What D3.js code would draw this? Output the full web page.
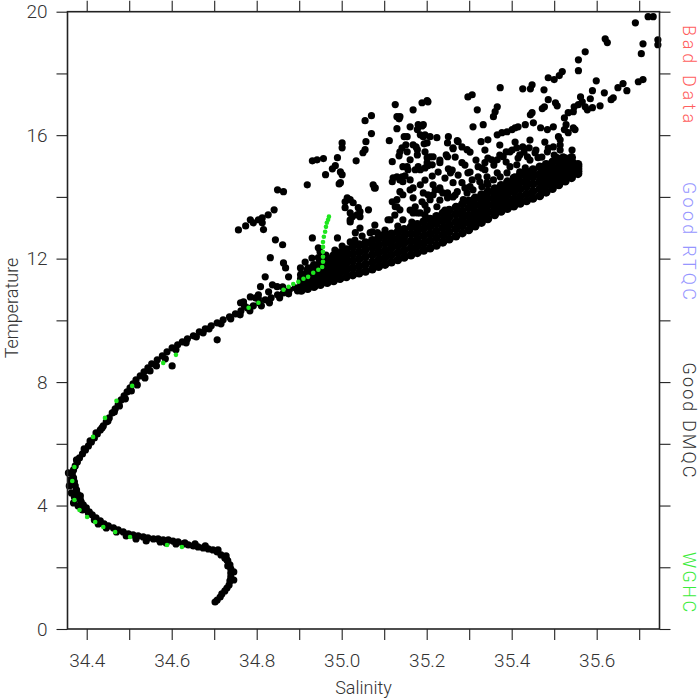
<!DOCTYPE html>
<html><head><meta charset="utf-8">
<script src="https://cdn.jsdelivr.net/npm/d3@7"></script>
<style>
body{margin:0;background:#fff}
text{font-family:Roboto,"Liberation Sans",Arial,sans-serif}
</style></head>
<body><svg id="chart" width="700" height="700"></svg>
<script>
// ---------------- DATA ----------------
const xTicks = [34.4,34.5,34.6,34.7,34.8,34.9,35.0,35.1,35.2,35.3,35.4,35.5,35.6,35.7];
const xLabels = [34.4,34.6,34.8,35.0,35.2,35.4,35.6];
const yTicks = [0,2,4,6,8,10,12,14,16,18,20];
const yLabels = [0,4,8,12,16,20];
const qcLabels = ["Bad Data","Good RTQC","Good DMQC","WGHC"];
const qcColors = ["#ff5f5f","#9696ff","#333333","#3cec3c"];
const qcCenters = [17.98,12.57,6.77,1.52];
const qcLengths = [98,118,115,60];

// main profile curve [salinity, temperature]
const hookProfile = [[34.702,0.875],[34.707,0.940],[34.714,1.037],[34.718,1.135],[34.725,1.232],[34.730,1.329],[34.735,1.426],[34.737,1.556],[34.739,1.686],[34.739,1.815],[34.739,1.945],[34.737,2.075],[34.732,2.204],[34.725,2.302],[34.716,2.399],[34.707,2.496],[34.697,2.561],[34.686,2.593],[34.674,2.626],[34.662,2.658],[34.651,2.690],[34.639,2.723],[34.627,2.755],
[34.615,2.82],[34.603,2.85],[34.592,2.885],[34.580,2.885],[34.568,2.917],[34.557,2.917],[34.544,2.950],[34.533,2.982],[34.521,3.015],[34.509,3.047],[34.498,3.080],[34.486,3.144],[34.474,3.209],[34.463,3.274],[34.451,3.339],[34.441,3.404],[34.432,3.501],[34.422,3.598],[34.413,3.695],[34.406,3.793],[34.399,3.922],[34.392,4.019],[34.387,4.117],[34.383,4.246],[34.378,4.376],[34.376,4.506],[34.373,4.635],[34.371,4.765],[34.369,4.895],[34.366,5.024],[34.369,5.154],[34.373,5.284],[34.378,5.413],[34.383,5.543],[34.390,5.673],[34.397,5.802],[34.404,5.932],[34.411,6.062],[34.418,6.191],[34.425,6.321],[34.432,6.451],[34.439,6.580],[34.446,6.710],[34.453,6.840],[34.460,7.002],[34.467,7.131],[34.474,7.261],[34.481,7.423],[34.488,7.553],[34.495,7.682],[34.502,7.812],[34.509,7.942],[34.516,8.071],[34.526,8.201],[34.535,8.331],[34.544,8.460],[34.553,8.590],[34.566,8.720],[34.578,8.849],[34.589,8.979],[34.601,9.109],[34.614,9.206],[34.625,9.303],[34.637,9.400],[34.651,9.498],[34.665,9.627],[34.679,9.725],[34.693,9.822],[34.707,9.919],[34.721,10.016],[34.736,10.113],[34.750,10.211],[34.763,10.308],[34.778,10.405],[34.792,10.470],[34.806,10.567],[34.820,10.665],[34.834,10.729],[34.849,10.827],[34.863,10.891],[34.877,10.989],[34.891,11.054],[34.905,11.151],[34.919,11.216],[34.933,11.280],[34.948,11.345],[34.962,11.410],[34.976,11.475],[34.990,11.540]];

const profileSpread = [[34.730,2.237],[34.728,2.366],[34.732,2.042],[34.746,1.848],[34.746,1.588],[34.709,2.561],[34.679,2.690],[34.655,2.755],[34.631,2.788],[34.610,2.755],[34.587,2.788],[34.573,2.82],[34.540,2.853],[34.516,2.917],[34.493,3.015],[34.470,3.144],[34.446,3.274],[34.427,3.404],[34.418,3.533],
[34.357,5.057],[34.362,4.830],[34.359,4.635],[34.364,4.408],[34.371,4.279],[34.385,4.181],[34.369,4.084],[34.380,3.987],[34.394,3.890],[34.404,3.760],[34.385,4.311],[34.390,3.857],
[34.376,5.478],[34.394,5.835],[34.408,6.094],[34.422,6.354],[34.436,6.516],[34.450,6.743],[34.465,7.034],[34.477,7.229],[34.491,7.456],[34.505,7.715],[34.519,7.909],[34.537,8.136],[34.549,8.363],[34.564,8.525],[34.601,8.525],[34.585,8.752],[34.610,9.044],[34.634,9.271],[34.658,9.465],[34.674,9.595],[34.707,9.368],[34.688,9.725],[34.716,9.887],[34.739,10.049],[34.761,10.178],[34.784,10.308],[34.811,10.470],[34.830,10.567],[34.854,10.729],[34.875,10.859],[34.896,10.956],[34.917,11.054],[34.940,11.151],[34.964,11.248],[34.985,11.345],[34.771,10.470],[34.804,10.697],[34.828,10.924],[34.861,11.086]];

// dense warm band: salinity column and temperatures stacked in it
const bandS = [34.905,34.920,34.935,34.950,34.966,34.981,34.996,35.011,35.026,35.041,35.056,35.072,35.087,35.102,35.117,35.132,35.147,35.163,35.178,35.193,35.208,35.223,35.238,35.253,35.269,35.284,35.299,35.314,35.329,35.344,35.360,35.375,35.390,35.405,35.420,35.435,35.450,35.466,35.481,35.496,35.511,35.526,35.541,35.556];
const bandT = [[10.97,11.10,11.23,11.35,11.48],[11.03,11.18,11.33,11.48,11.63],[11.09,11.26,11.44,11.61,11.78],[11.16,11.35,11.54,11.72,11.91],[11.22,11.42,11.61,11.81,12.00],[11.28,11.48,11.69,11.89,12.10],[11.35,11.56,11.77,11.98,12.19],[11.41,11.63,11.85,12.07,12.29],[11.47,11.70,11.93,12.15,12.38],[11.53,11.76,11.99,12.22,12.45],[11.59,11.82,12.06,12.29,12.52],[11.66,11.89,12.13,12.36,12.59],[11.74,11.97,12.20,12.43,12.66],[11.81,12.04,12.27,12.50,12.73],[11.89,12.12,12.35,12.57,12.80],[11.96,12.19,12.42,12.64,12.87],[12.04,12.27,12.50,12.72,12.95],[12.11,12.34,12.57,12.80,13.03],[12.19,12.42,12.65,12.88,13.11],[12.27,12.50,12.74,12.97,13.20],[12.34,12.58,12.81,13.05,13.28],[12.43,12.67,12.90,13.14,13.37],[12.53,12.77,13.00,13.24,13.47],[12.63,12.87,13.10,13.34,13.57],[12.73,12.97,13.20,13.44,13.67],[12.83,13.07,13.30,13.54,13.77],[12.93,13.17,13.40,13.64,13.87],[13.05,13.28,13.51,13.74,13.97],[13.17,13.39,13.62,13.85,14.07],[13.29,13.51,13.73,13.95,14.17],[13.42,13.63,13.85,14.06,14.27],[13.53,13.74,13.95,14.16,14.37],[13.62,13.84,14.06,14.27,14.49],[13.70,13.93,14.16,14.38,14.61],[13.79,14.02,14.26,14.49,14.72],[13.87,14.10,14.34,14.57,14.80],[13.95,14.18,14.42,14.65,14.88],[14.03,14.27,14.50,14.74,14.97],[14.15,14.38,14.60,14.83,15.05],[14.27,14.49,14.70,14.92,15.13],[14.39,14.59,14.79,14.99,15.19],[14.51,14.69,14.88,15.06,15.24],[14.62,14.79,14.95,15.12,15.28],[14.75,14.83,14.90,14.98,15.05]];

// points crowding just above the band
const bandFringe = [[35.196,14.545],[35.213,14.674],[35.227,14.804],[35.243,14.610],[35.260,14.869],[35.274,14.707],[35.290,15.031],[35.302,14.804],[35.316,15.193],[35.330,14.934],[35.344,15.258],[35.358,15.031],[35.372,15.355],[35.387,15.128],[35.401,15.517],[35.415,15.258],[35.429,15.452],[35.443,15.193],[35.457,15.517],[35.471,15.290],[35.486,15.582],[35.500,15.355],[35.514,15.517],[35.528,15.193],[35.231,15.193],[35.267,15.290],[35.302,15.452],[35.337,15.517],[35.372,15.679],[35.408,15.776],[35.443,15.841],[35.478,15.776],[35.514,15.679],[35.542,15.517],
[35.031,12.601],[35.048,12.731],[35.067,12.504],[35.085,12.666],[35.102,12.925],[35.118,12.731],[35.132,13.054],[35.149,12.860],[35.165,13.185],[35.179,12.990],[35.043,12.990],[35.078,13.087],[35.125,13.411],[35.161,13.573],[35.196,13.735],[35.231,13.892],[35.267,14.059],[35.196,13.411],[35.243,13.573],
[34.914,11.889],[34.930,12.018],[34.963,12.115],[34.984,12.277],[35.001,12.407]];

// scattered points above the band
const midScatter = [[34.757,12.93],[34.774,13.06],[34.785,13.26],[34.792,13.16],[34.804,13.26],[34.813,13.32],[34.827,13.42],[34.841,13.58],[34.813,13.16],[34.816,12.94],[34.849,14.23],[34.863,14.17],[34.919,14.39],[34.844,12.61],[34.861,12.45],[34.832,12.03],[34.863,11.86],[34.868,11.70],[34.875,11.41],[34.903,11.70],[34.921,11.70],[34.820,11.41],[34.837,11.15],[34.848,11.09],[34.809,11.09],[34.804,10.83],[34.797,10.73],[34.785,10.76],[34.769,10.60],[34.762,10.57],[34.945,12.03],[34.949,12.22],[34.945,12.35],[34.931,12.67],[34.990,12.67],
[34.931,15.17],[34.942,15.20],[34.957,15.24],[34.990,15.27],[34.978,14.91],[34.985,15.01],[34.962,14.72],[34.997,14.81],[35.001,14.72],[34.997,14.46],[35.001,15.75],[35.001,15.59],[35.055,16.47],[35.070,16.63],[35.057,15.79],[35.070,16.05],[35.055,15.53],[35.050,15.43],[35.034,15.17],[35.074,14.39],[35.079,14.29],[35.013,13.97],[35.008,13.84],[35.020,13.91],[35.008,13.65],[35.025,13.36],[35.020,13.26],[35.039,13.65],[35.043,13.52],[35.036,13.42],[35.063,13.58],[35.032,12.84],[35.072,12.87],[35.084,12.84],[35.095,12.77],[35.107,12.77],[35.114,12.71],[35.114,13.26],[35.126,16.99],[35.130,16.60],[35.135,16.53],[35.168,16.82],[35.189,17.05],[35.203,17.08],[35.112,15.82],[35.130,16.21],[35.154,15.95],[35.161,16.27],[35.180,16.34],[35.192,16.34],[35.178,16.18],[35.185,16.01],[35.192,15.95],[35.208,15.95],[35.224,15.92],[35.151,15.69],[35.142,15.59],[35.137,15.46],[35.135,15.33],[35.168,15.69],[35.178,15.53],[35.194,15.72],[35.201,15.27],[35.208,15.30],[35.215,15.30],[35.119,15.14],[35.154,14.98],[35.156,14.88],[35.173,14.88],[35.185,14.88],[35.196,14.94],[35.203,15.01],[35.213,15.04],[35.142,14.65],[35.149,14.68],[35.121,14.62],[35.251,15.95],[35.249,15.75],[35.262,15.56],[35.249,15.30],[35.251,14.91],[35.272,15.82],[35.130,14.65],[35.137,14.55],[35.144,14.49],[35.119,14.49],[35.137,14.17],[35.144,14.07],[35.168,14.29],[35.215,14.39],[35.220,14.23],[35.231,14.23],[35.130,13.91],[35.119,13.84],[35.130,13.68],[35.109,13.26],[35.137,13.58],[35.168,13.97],[35.189,13.84],[35.208,13.91],[35.215,14.07],[35.185,13.48],[35.168,13.48],[35.201,13.58],[35.224,13.68],[35.249,13.97],
[34.994,14.42],[35.077,14.29],[35.161,14.23],[35.231,14.29],[35.027,13.81],[35.020,13.48],[35.043,13.36],[35.144,13.26],[35.020,13.19],[35.067,12.84],[35.020,12.54],[35.185,14.39],[35.192,14.13],[35.203,14.07],[35.173,13.68],[35.178,13.48],[35.249,14.13],[35.272,14.17],[35.295,14.13],[35.309,14.23],[35.330,14.33],[35.342,14.46],[35.286,13.91],[35.215,13.16],[35.126,13.68],
[35.161,14.55],[35.238,14.13],[35.262,14.00],[35.302,14.33],[35.325,14.49],[35.344,14.39],[35.357,14.55],[35.373,14.65],[35.389,14.78],[35.408,14.65],[35.419,14.81],[35.437,14.65],[35.450,14.72]];

const upperScatter = [[35.721,19.84],[35.733,19.84],[35.744,19.09],[35.744,18.93],[35.691,19.64],[35.709,18.96],[35.705,18.64],[35.620,19.12],[35.625,19.00],[35.573,18.70],[35.557,18.44],[35.557,18.09],[35.519,18.06],[35.512,17.93],[35.500,17.80],[35.486,17.86],[35.448,17.63],[35.444,17.50],[35.426,17.50],[35.373,17.54],[35.476,17.47],[35.307,17.31],[35.297,17.24],[35.599,17.76],[35.590,17.44],[35.618,17.37],[35.650,17.54],[35.662,17.67],[35.671,17.44],[35.698,17.73],[35.709,17.80],[35.562,17.24],[35.585,17.18],[35.639,17.21],[35.634,17.15],[35.608,16.95],[35.566,17.08],[35.557,16.99],[35.573,16.92],[35.578,16.82],[35.590,16.89],[35.547,16.92],[35.545,16.76],[35.533,16.73],[35.524,16.56],[35.549,16.18],[35.524,16.18],[35.486,17.15],[35.477,16.92],[35.472,16.86],[35.507,16.95],[35.503,17.05],[35.366,16.92],[35.361,16.76],[35.357,16.60],[35.319,16.82],[35.333,16.34],[35.309,16.27],[35.201,17.12],[35.137,16.60],[35.189,16.30],[35.196,16.01],[35.262,15.59],[35.274,15.79],[35.283,15.62],[35.295,15.53],[35.328,15.79],[35.344,15.85],[35.366,16.01],[35.377,16.08],[35.389,16.11],[35.401,16.18],[35.408,16.24],[35.415,16.27],[35.432,16.34],[35.444,16.66],[35.448,16.73],[35.451,16.40],[35.468,16.24],[35.484,16.18],[35.498,16.27],[35.528,16.34],[35.510,15.95],[35.514,15.85],[35.533,16.08],[35.545,16.24],[35.147,15.95],[35.175,15.62],[35.201,15.75],[35.196,15.46],[35.178,15.36],[35.154,15.46],[35.161,15.20],[35.144,14.98],[35.180,14.98],[35.201,15.11],[35.246,15.36],[35.283,15.11],[35.297,14.78],[35.321,14.98],[35.337,15.11],[35.337,14.88],[35.353,15.20],[35.366,15.20],[35.380,15.30],[35.387,15.46],[35.396,15.46],[35.412,15.59],[35.426,15.62],[35.441,15.59],[35.419,15.36],[35.437,15.30],[35.455,15.43],[35.462,15.27],[35.484,15.46],[35.498,15.62],[35.507,15.27],[35.521,15.30],[35.538,15.24],[35.545,15.11],[35.549,14.94],[35.542,14.78],[35.526,14.78],[35.475,14.78],[35.468,14.98],[35.448,14.78],[35.432,14.94],[35.412,15.04],[35.396,14.98],[35.366,14.78],[35.342,14.65],[35.321,14.65],[35.307,14.55],[35.290,14.29],[35.283,14.46],[35.262,14.46],[35.256,14.78],[35.231,15.11]];

// WGHC climatology points (green)
const wghcPoints = [[34.371,5.251],[34.366,4.797],[34.371,4.181],[34.383,3.857],[34.401,3.630],[34.420,3.468],[34.439,3.306],[34.467,3.144],[34.502,2.982],[34.589,2.723],[34.624,2.658],[34.415,6.224],[34.443,6.840],[34.470,7.391],[34.507,7.877],[34.580,8.622],[34.610,8.882],
[34.781,10.41],[34.804,10.57],[34.863,10.99],[34.875,11.09],[34.886,11.18],[34.898,11.25],[34.910,11.35],[34.921,11.41],[34.933,11.54],[34.945,11.64],[34.954,11.73],[34.956,11.90],[34.956,12.06],[34.956,12.22],[34.956,12.38],[34.956,12.54],[34.958,12.71],[34.961,12.87],[34.963,13.03],[34.965,13.16],[34.968,13.26],[34.970,13.36]];

// ---------------- DRAW ----------------
const svg = d3.select("#chart");
const L = 67.5, R = 659.5, T = 11.7, B = 629;
const x = d3.scaleLinear().domain([34.3548, 35.7478]).range([L, R]);
const y = d3.scaleLinear().domain([0, 20]).range([B, T]);

const bandPts = bandS.flatMap((s, i) => bandT[i].map(t => [s, t]));
const blackPts = [].concat(hookProfile, profileSpread, bandFringe, midScatter, upperScatter);

svg.append("g").selectAll("circle").data(bandPts).join("circle")
  .attr("cx", d => x(d[0])).attr("cy", d => y(d[1])).attr("r", 4.4).attr("fill", "#000");
svg.append("g").selectAll("circle").data(blackPts).join("circle")
  .attr("cx", d => x(d[0])).attr("cy", d => y(d[1])).attr("r", 3.6).attr("fill", "#000");
svg.append("g").selectAll("circle").data(wghcPoints).join("circle")
  .attr("cx", d => x(d[0])).attr("cy", d => y(d[1])).attr("r", 2.3).attr("fill", "#1ee61e");

const fmtX = d => xLabels.some(v => Math.abs(v - d) < 1e-6) ? d.toFixed(1) : "";
const fmtY = d => yLabels.includes(d) ? String(d) : "";

function styleAxis(g) {
  g.select(".domain").remove();
  g.selectAll(".tick line").attr("stroke", "#222").attr("stroke-width", 1.1);
  g.selectAll(".tick text").attr("fill", "#333").attr("font-size", 19).attr("font-weight", 300);
}
svg.append("g").attr("transform", `translate(0,${B})`)
  .call(d3.axisBottom(x).tickValues(xTicks).tickSize(11).tickPadding(14).tickFormat(fmtX)).call(styleAxis);
svg.append("g").attr("transform", `translate(0,${T})`)
  .call(d3.axisTop(x).tickValues(xTicks).tickSize(11).tickFormat(() => "")).call(styleAxis);
svg.append("g").attr("transform", `translate(${L},0)`)
  .call(d3.axisLeft(y).tickValues(yTicks).tickSize(11).tickPadding(9).tickFormat(fmtY)).call(styleAxis);
svg.append("g").attr("transform", `translate(${R},0)`)
  .call(d3.axisRight(y).tickValues(yTicks).tickSize(11).tickFormat(() => "")).call(styleAxis);

svg.append("rect").attr("x", L).attr("y", T).attr("width", R - L).attr("height", B - T)
  .attr("fill", "none").attr("stroke", "#222").attr("stroke-width", 1.6);

svg.append("text").attr("x", (L + R) / 2).attr("y", 694).attr("text-anchor", "middle")
  .attr("font-size", 18).attr("font-weight", 300).attr("fill", "#333").text("Salinity");
svg.append("text").attr("transform", `translate(18,308) rotate(-90)`).attr("text-anchor", "middle")
  .attr("font-size", 18).attr("font-weight", 300).attr("fill", "#333").text("Temperature");

qcLabels.forEach((lab, i) => {
  svg.append("text").attr("transform", `translate(683,${y(qcCenters[i])}) rotate(90)`)
    .attr("text-anchor", "middle").attr("font-size", 18).attr("font-weight", 300)
    .attr("fill", qcColors[i]).attr("textLength", qcLengths[i]).attr("lengthAdjust", "spacing")
    .text(lab);
});
</script></body></html>
